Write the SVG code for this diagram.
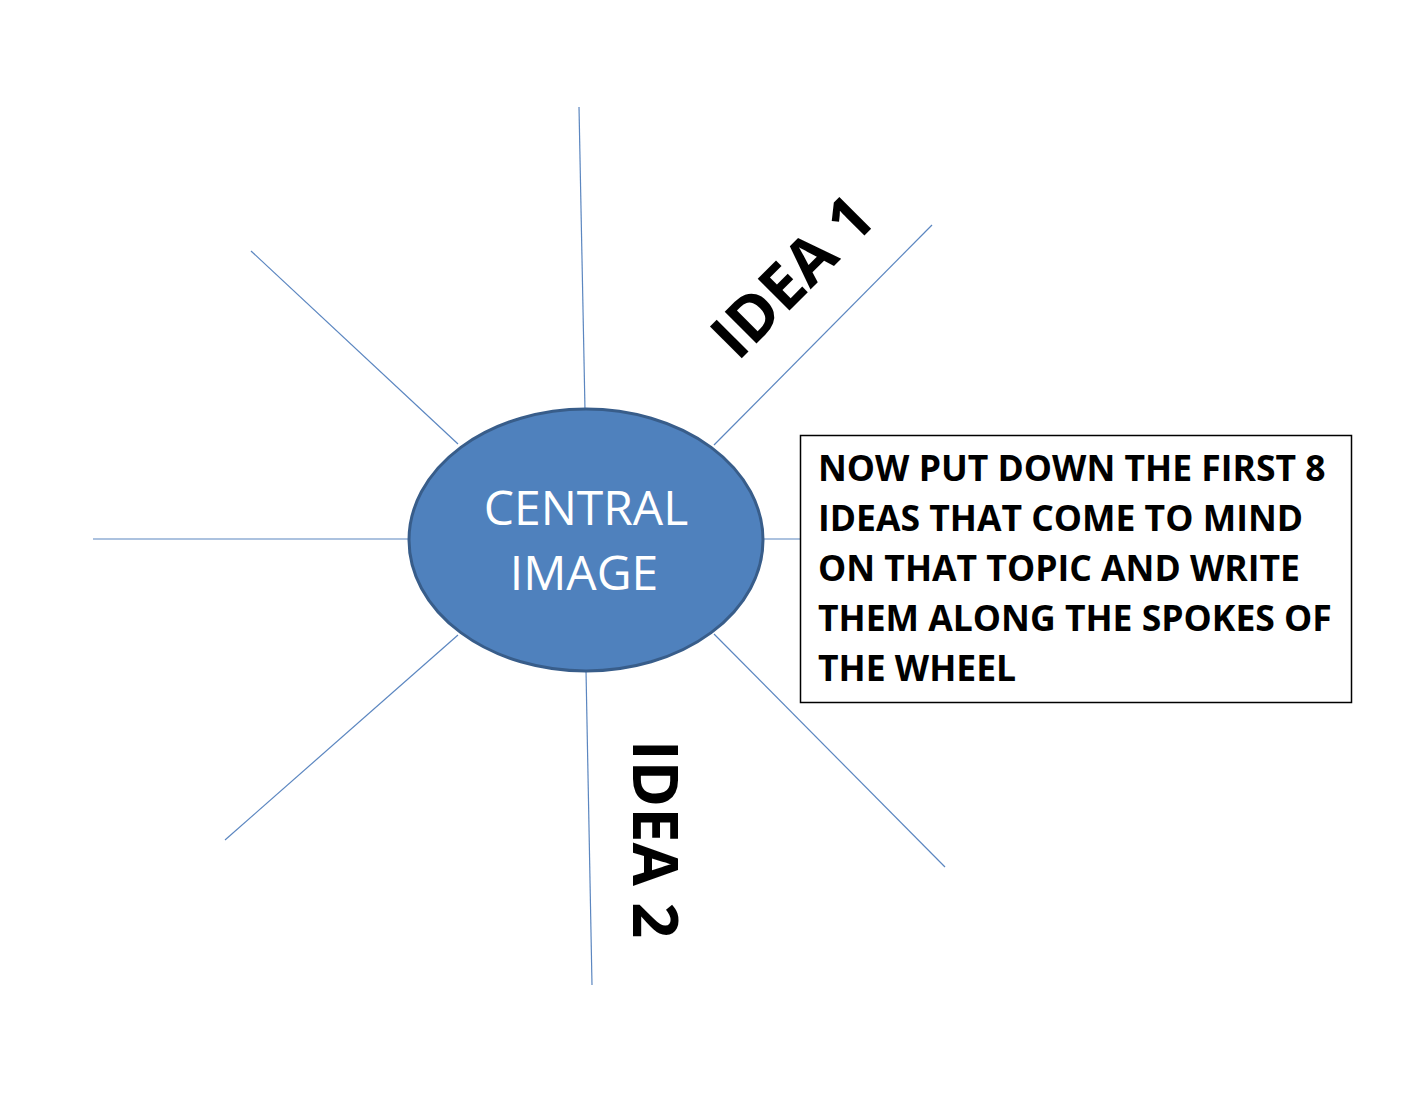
<svg xmlns="http://www.w3.org/2000/svg" width="1410" height="1096" viewBox="0 0 1410 1096">
  <style>
    .spoke { stroke: #5b86c0; stroke-width: 1.2; fill: none; }
    .idea { font-family: "Open Sans", "Noto Sans", sans-serif; font-weight: 700; font-size: 63px; fill: #000; }
    .central { font-family: "Open Sans", "Noto Sans", sans-serif; font-size: 48px; fill: #fff; }
    .note { font-family: "Open Sans", "Noto Sans", sans-serif; font-weight: 700; font-size: 35.5px; fill: #000; }
  </style>
  <rect width="1410" height="1096" fill="#fff"/>
  <g id="connectors">
    <line class="spoke" x1="579" y1="107" x2="585" y2="410"/>
    <line class="spoke" x1="932" y1="225" x2="714" y2="445"/>
    <line class="spoke" x1="762" y1="539" x2="800" y2="539"/>
    <line class="spoke" x1="714" y1="634" x2="945" y2="867"/>
    <line class="spoke" x1="586" y1="670" x2="592" y2="985"/>
    <line class="spoke" x1="458" y1="635" x2="225" y2="840"/>
    <line class="spoke" x1="93" y1="539" x2="410" y2="539"/>
    <line class="spoke" x1="251" y1="251" x2="458" y2="444"/>
  </g>
  <g id="central">
    <ellipse cx="586" cy="540" rx="177" ry="131" fill="#4f81bd" stroke="#385d8a" stroke-width="3"/>
    <text class="central" x="586" y="525" text-anchor="middle">CENTRAL</text>
    <text class="central" x="584" y="590" text-anchor="middle">IMAGE</text>
  </g>
  <g id="idea1">
    <text class="idea" transform="translate(808,292) rotate(-45)" text-anchor="middle">IDEA 1</text>
  </g>
  <g id="idea2">
    <text class="idea" transform="translate(633,839) rotate(90)" text-anchor="middle">IDEA 2</text>
  </g>
  <g id="note">
    <rect x="800.5" y="435.5" width="551" height="267" fill="#fff" stroke="#000" stroke-width="1.5"/>
    <text class="note" x="818" y="481">NOW PUT DOWN THE FIRST 8</text>
    <text class="note" x="818" y="531">IDEAS THAT COME TO MIND</text>
    <text class="note" x="818" y="581">ON THAT TOPIC AND WRITE</text>
    <text class="note" x="818" y="631">THEM ALONG THE SPOKES OF</text>
    <text class="note" x="818" y="681">THE WHEEL</text>
  </g>
</svg>
